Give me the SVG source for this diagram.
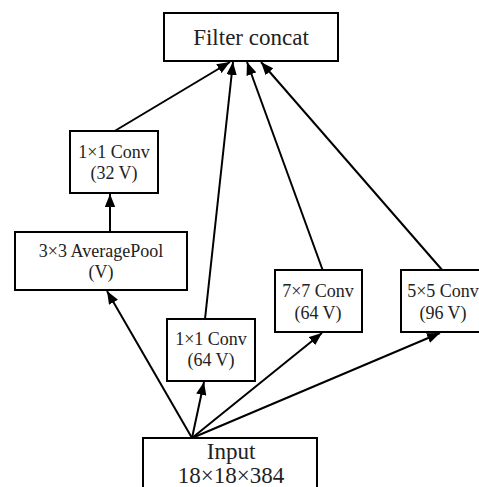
<svg xmlns="http://www.w3.org/2000/svg" width="479" height="487" viewBox="0 0 479 487">
<style>
.box{fill:#fff;stroke:#000;stroke-width:2}
.t{font-family:"Liberation Serif","DejaVu Serif",serif;fill:#222;text-anchor:middle}
.s{font-size:18px}
.l{font-size:23px}
.e{fill:none;stroke:#000;stroke-width:2}
</style>
<defs>
<marker id="ah" viewBox="0 0 10 8" refX="10" refY="4" markerWidth="6.5" markerHeight="5.2" orient="auto" markerUnits="strokeWidth">
<path d="M0,0 L10,4 L0,8 z" fill="#000"/>
</marker>
</defs>
<rect width="479" height="487" fill="#fff"/>
<g id="connectors">
<line class="e" x1="110" y1="232" x2="110" y2="194" marker-end="url(#ah)"/>
<line class="e" x1="113" y1="132" x2="230" y2="62" marker-end="url(#ah)"/>
<line class="e" x1="205" y1="319" x2="233" y2="62" marker-end="url(#ah)"/>
<line class="e" x1="323" y1="271" x2="247" y2="62" marker-end="url(#ah)"/>
<line class="e" x1="443" y1="271" x2="261" y2="62" marker-end="url(#ah)"/>
<line class="e" x1="192" y1="438" x2="107" y2="291" marker-end="url(#ah)"/>
<line class="e" x1="192" y1="438" x2="204" y2="382" marker-end="url(#ah)"/>
<line class="e" x1="192" y1="438" x2="322" y2="333" marker-end="url(#ah)"/>
<line class="e" x1="192" y1="438" x2="440" y2="333" marker-end="url(#ah)"/>
</g>
<g id="concat">
<rect class="box" x="164" y="13" width="174" height="48"/>
<text class="t l" x="251" y="45">Filter concat</text>
</g>
<g id="conv1x1_32">
<rect class="box" x="70" y="131" width="88" height="62"/>
<text class="t s" x="114" y="158">1×1 Conv</text>
<text class="t s" x="114" y="179">(32 V)</text>
</g>
<g id="avgpool">
<rect class="box" x="15" y="232" width="172" height="58"/>
<text class="t s" x="101" y="257">3×3 AveragePool</text>
<text class="t s" x="101" y="278">(V)</text>
</g>
<g id="conv1x1_64">
<rect class="box" x="167" y="319" width="88" height="62"/>
<text class="t s" x="211" y="345">1×1 Conv</text>
<text class="t s" x="211" y="366">(64 V)</text>
</g>
<g id="conv7x7">
<rect class="box" x="275" y="270" width="87" height="62"/>
<text class="t s" x="318" y="297">7×7 Conv</text>
<text class="t s" x="318" y="319">(64 V)</text>
</g>
<g id="conv5x5">
<rect class="box" x="401" y="270" width="84" height="62"/>
<text class="t s" x="443" y="297">5×5 Conv</text>
<text class="t s" x="443" y="319">(96 V)</text>
</g>
<g id="input">
<rect class="box" x="143" y="438" width="174" height="60"/>
<text class="t l" x="231" y="459">Input</text>
<text class="t l" x="231" y="483">18×18×384</text>
</g>
</svg>
